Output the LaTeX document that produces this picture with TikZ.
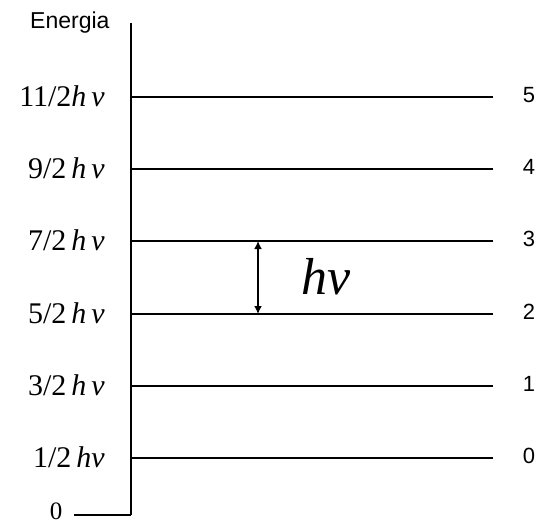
\documentclass[tikz,border=0pt]{standalone}
\usepackage{fontspec}
\setmainfont{Liberation Serif}
\setsansfont{Liberation Sans}
\usetikzlibrary{arrows.meta}
\begin{document}
\begin{tikzpicture}[x=1pt,y=-1pt,
  level/.style={line width=1.8pt},
  axis/.style={line width=1.8pt},
  elab/.style={anchor=base east,inner sep=0pt,font=\fontsize{30}{32}\selectfont},
  nlab/.style={anchor=base,inner sep=0pt,font=\sffamily\fontsize{22}{24}\selectfont},
  dblarrow/.style={line width=1.6pt,{Latex[length=8pt,width=8pt]}-{Latex[length=8pt,width=8pt]}},
]
\useasboundingbox (0,0) rectangle (538,523);
\coordinate (top) at (131,23);
\coordinate (bot) at (131,515);
\coordinate (zl) at (74,515);
\draw[axis] (top) -- (bot);
\draw[axis] (zl) -- (bot);
\node[anchor=base west,inner sep=0pt,font=\sffamily\fontsize{23}{25}\selectfont] (en) at (30,28) {Energia};
\node[anchor=base,inner sep=0pt,font=\fontsize{25}{27}\selectfont] (z) at (56,519) {0};
\foreach \n/\y/\t in {5/97/{11/2\textit{h}\,\textit{ν}},4/169/{9/2\,\textit{h}\,\textit{ν}},3/241/{7/2\,\textit{h}\,\textit{ν}},2/314/{5/2\,\textit{h}\,\textit{ν}},1/386/{3/2\,\textit{h}\,\textit{ν}},0/458/{1/2\,\textit{hν}}}{
  \coordinate (l\n) at (131,\y);
  \coordinate (r\n) at (493,\y);
  \draw[level] (l\n) -- (r\n);
  \node[elab] (e\n) at (105,\y+9) {\t};
  \node[nlab] (n\n) at (529,\y+5) {\n};
}
\coordinate (a3) at (258,241);
\coordinate (a2) at (258,314);
\draw[dblarrow] (a3) -- (a2);
\node[anchor=base,inner sep=0pt,font=\fontsize{52}{54}\selectfont\itshape] (hv) at (326,294) {hν};
\end{tikzpicture}
\end{document}
